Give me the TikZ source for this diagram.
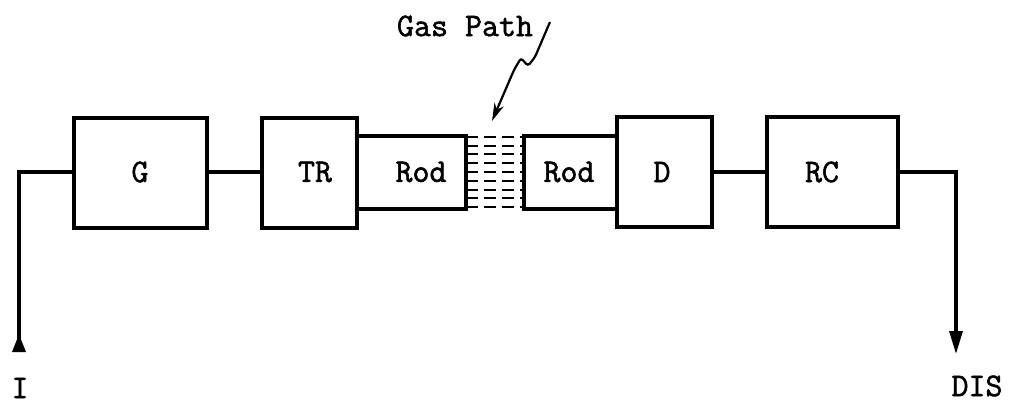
\documentclass[tikz,border=0pt]{standalone}
\usepackage{fontspec}
\newfontfamily\twfont{Latin Modern Mono}[FakeBold=1.6,AutoFakeBold=1.6]
\usetikzlibrary{arrows.meta}
\begin{document}
\begin{tikzpicture}[x=1pt,y=-1pt,
  box/.style={draw,line width=3.2pt,rectangle,inner sep=0pt},
  txt/.style={font=\twfont\bfseries\fontsize{33}{35}\selectfont,inner sep=0pt},
  wire/.style={line width=3.2pt},
  gasdash/.style={line width=2pt,dash pattern=on 12pt off 6pt}]
\useasboundingbox (0,0) rectangle (1018,404);
% boxes
\node[box,minimum width=133pt,minimum height=110pt] (G) at (140.5,173) {};
\node[box,minimum width=95pt,minimum height=110pt] (TR) at (309.5,173) {};
\node[box,minimum width=109pt,minimum height=73pt] (Rod1) at (411.5,172.5) {};
\node[draw=none,minimum width=58pt,minimum height=73pt,inner sep=0pt] (gas) at (495,172.5) {};
\node[box,minimum width=93pt,minimum height=73pt] (Rod2) at (570.5,172.5) {};
\node[box,minimum width=95pt,minimum height=110pt] (D) at (664.5,172) {};
\node[box,minimum width=131pt,minimum height=110pt] (RC) at (832.5,172) {};
% texts
\node[txt] (tG) at (140,172) {G};
\node[txt] (tTR) at (315,172) {TR};
\node[txt] (tRod1) at (421,172) {Rod};
\node[txt] (tRod2) at (569,172) {Rod};
\node[txt] (tD) at (662,172) {D};
\node[txt] (tRC) at (822,172) {RC};
\node[txt] (gaslabel) at (465,26) {Gas Path};
\node[txt] (I) at (20,388) {I};
\node[txt] (DIS) at (977,386) {DIS};
% gas path dashes
\foreach \i in {0,...,8}{
  \draw[gasdash] ([yshift=-\i*8.8pt-1pt]gas.north west) -- ([yshift=-\i*8.8pt-1pt]gas.north east);
}
% connectors
\coordinate (Iend) at (19,352);
\coordinate (Lc) at (19,172);
\coordinate (Rc) at (956,172);
\coordinate (DISend) at (956,354);
\draw[wire,-{Triangle[reversed,length=18pt,width=13pt]}] (G.west |- Lc) -- (Lc) -- (Iend);
\draw[wire] (G.east |- Lc) -- (TR.west |- Lc);
\draw[wire] (D.east |- Rc) -- (RC.west |- Rc);
\draw[wire,-{Triangle[length=23pt,width=13pt]}] (RC.east |- Rc) -- (Rc) -- (DISend);
% gas path pointer
\coordinate (sq) at (550,22);
\draw[line width=2.2pt,rounded corners=3pt,-{Stealth[length=18pt,width=10pt]}]
  (sq) -- (535,57) -- (528,66) -- (521,58) -- (514,70) -- (492,121);
\end{tikzpicture}
\end{document}
